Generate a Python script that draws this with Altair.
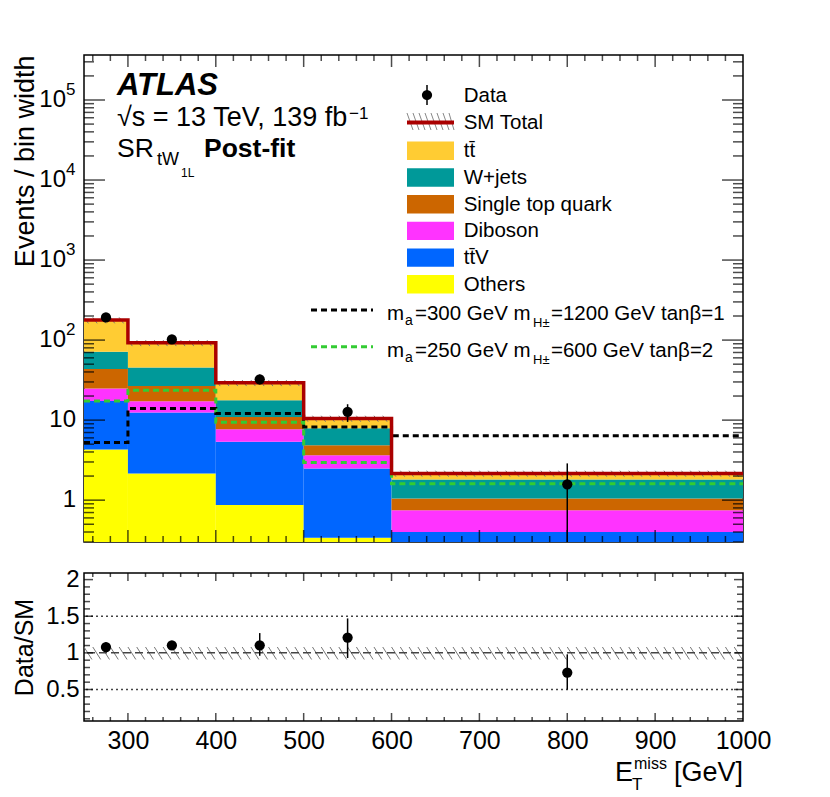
import altair as alt
import pandas as pd

FONT = "Liberation Sans"

# ---------------- data ----------------
bin_lo = [250, 300, 400, 500, 600]
bin_hi = [300, 400, 500, 600, 1000]
bin_mid = [275, 350, 450, 550, 800]

# stacked backgrounds (events / bin width), bottom -> top
others = [4.3, 2.16, 0.87, 0.34, 0.2]
ttv = [13.0, 10.3, 4.5, 2.15, 0.2]
diboson = [7.6, 4.8, 2.3, 1.16, 0.35]
single_top = [18.5, 9.5, 3.3, 1.22, 0.30]
wjets = [28.0, 18.8, 6.8, 3.03, 0.76]
ttbar = [106.6, 46.9, 11.5, 2.6, 0.35]

data_val = [192, 102, 32.3, 12.7, 1.58]
data_lo = [179, 93, 28, 9.5, 0.05]
data_hi = [206, 112, 37, 15.8, 2.88]

sig1 = [5.26, 14.0, 12.1, 8.2, 6.4]    # m_a=300, m_H+=1200, tanb=1
sig2 = [17.3, 23.7, 9.4, 2.96, 1.6]    # m_a=250, m_H+=600, tanb=2

# SM total relative uncertainty band
band_lo = [0.91, 0.91, 0.91, 0.91, 0.91]
band_hi = [1.08, 1.08, 1.08, 1.08, 1.08]

# ratio error bars
ratio_lo = [1.02, 1.05, 0.96, 0.93, 0.50]
ratio_hi = [1.14, 1.16, 1.27, 1.47, 0.98]

proc_names = ["Others", "ttV", "Diboson", "Single top quark", "W+jets", "ttbar"]
proc_vals = [others, ttv, diboson, single_top, wjets, ttbar]
proc_cols = ["#ffff00", "#0066ff", "#ff33ff", "#cc6600", "#009999", "#ffcc33"]

x_major = [300, 400, 500, 600, 700, 800, 900]
ratio_labels = [300, 400, 500, 600, 700, 800, 900, 1000]
y_decades = [1, 10, 100, 1000, 10000, 100000]
y_base = ["1", "10", "10", "10", "10", "10"]
y_exp = ["", "", "2", "3", "4", "5"]

# ---------------- build tables ----------------
rows = []
cum = [0.0] * 5
for name, vals in zip(proc_names, proc_vals):
    for i in range(5):
        b = cum[i]
        t = b + vals[i]
        rows.append(dict(proc=name, x=bin_lo[i], x2=bin_hi[i], y=max(b, 0.01), y2=t))
        cum[i] = t
total = cum
stack_df = pd.DataFrame(rows)

W, H = 659, 487
WR, HR = 659, 148

xsc = alt.Scale(domain=[250, 1000], nice=False, zero=False)
ysc = alt.Scale(type="log", domain=[0.3, 3.65e5], nice=False)
ysc_r = alt.Scale(domain=[0.07, 2.09], nice=False, zero=False)

dummy = pd.DataFrame({"d": [0]})


def txt(s, x, y, size=20.5, weight="normal", style="normal", align="left"):
    return alt.Chart(dummy).mark_text(
        text=s, align=align, baseline="alphabetic", fontSize=size, font=FONT,
        fontWeight=weight, fontStyle=style, color="black"
    ).encode(x=alt.value(x), y=alt.value(y))


def box(x1, x2, y1, y2, color):
    return alt.Chart(dummy).mark_rect(color=color).encode(
        x=alt.value(x1), x2=alt.value(x2), y=alt.value(y1), y2=alt.value(y2))


def seg(x1, y1, x2, y2, color, width, dash=None):
    kw = dict(color=color, strokeWidth=width)
    if dash:
        kw["strokeDash"] = dash
    return alt.Chart(dummy).mark_rule(**kw).encode(
        x=alt.value(x1), x2=alt.value(x2), y=alt.value(y1), y2=alt.value(y2))


def ticks(vals, axis, length, width, height):
    df = pd.DataFrame({"v": vals})
    out = []
    if axis == "x":
        for ypos in (height - length / 2, length / 2):
            out.append(alt.Chart(df).mark_tick(orient="vertical", size=length, thickness=1.5,
                                               color="black", clip=True)
                       .encode(x=alt.X("v:Q"), y=alt.value(ypos)))
    else:
        for xpos in (length / 2, width - length / 2):
            out.append(alt.Chart(df).mark_tick(orient="horizontal", size=length, thickness=1.5,
                                               color="black", clip=True)
                       .encode(y=alt.Y("v:Q"), x=alt.value(xpos)))
    return out


# ---------------- main panel ----------------
stack = alt.Chart(stack_df).mark_rect(clip=True).encode(
    x=alt.X("x:Q", scale=xsc, axis=alt.Axis(labels=False, ticks=False, domain=False, grid=False, title=None)),
    x2="x2:Q",
    y=alt.Y("y:Q", scale=ysc, axis=alt.Axis(labels=False, ticks=False, domain=False, grid=False,
                                            title="Events / bin width", titleAnchor="end",
                                            titleFontSize=27, titlePadding=45)),
    y2="y2:Q",
    color=alt.Color("proc:N", scale=alt.Scale(domain=proc_names, range=proc_cols), legend=None),
)

# hatch of SM uncertainty along total
hrows = []
for i in range(5):
    x = bin_lo[i]
    while x < bin_hi[i]:
        hrows.append(dict(x=x, x2=min(x + 5, bin_hi[i]), y=total[i] * band_hi[i], y2=total[i] * band_lo[i]))
        x += 10
hatch_main = alt.Chart(pd.DataFrame(hrows)).mark_rule(color="#777777", strokeWidth=1, clip=True).encode(
    x="x:Q", x2="x2:Q", y="y:Q", y2="y2:Q")

edges = bin_lo + [bin_hi[-1]]
tot_line = alt.Chart(pd.DataFrame({"x": edges, "y": total + [total[-1]]})).mark_line(
    interpolate="step-after", color="#aa0000", strokeWidth=3.5, clip=True).encode(x="x:Q", y="y:Q")
sig1_line = alt.Chart(pd.DataFrame({"x": edges, "y": sig1 + [sig1[-1]]})).mark_line(
    interpolate="step-after", color="black", strokeWidth=3, strokeDash=[6, 4], clip=True).encode(x="x:Q", y="y:Q")
sig2_line = alt.Chart(pd.DataFrame({"x": edges, "y": sig2 + [sig2[-1]]})).mark_line(
    interpolate="step-after", color="#33cc33", strokeWidth=3, strokeDash=[6, 4], clip=True).encode(x="x:Q", y="y:Q")

ddf = pd.DataFrame({"x": bin_mid, "v": data_val, "lo": data_lo, "hi": data_hi})
data_err = alt.Chart(ddf).mark_rule(color="black", strokeWidth=1.5, clip=True).encode(x="x:Q", y="lo:Q", y2="hi:Q")
data_pts = alt.Chart(ddf).mark_circle(color="black", size=105, opacity=1, clip=True).encode(x="x:Q", y="v:Q")

ylab = pd.DataFrame({"v": y_decades, "base": y_base, "exp": y_exp})
ylab_plain = alt.Chart(ylab[ylab["exp"] == ""]).mark_text(
    align="right", baseline="middle", fontSize=24, font=FONT, color="black").encode(
    y="v:Q", x=alt.value(-8), text="base:N")
ylab_base = alt.Chart(ylab[ylab["exp"] != ""]).mark_text(
    align="right", baseline="middle", fontSize=24, font=FONT, color="black").encode(
    y="v:Q", x=alt.value(-18), text="base:N")
ylab_exp = alt.Chart(ylab[ylab["exp"] != ""]).mark_text(
    align="left", baseline="middle", fontSize=17, font=FONT, color="black", dy=-10).encode(
    y="v:Q", x=alt.value(-18), text="exp:N")

x_minor = [v for v in range(260, 1000, 20) if v % 100 != 0]
y_minor = [m * 10.0 ** e for e in range(-1, 6) for m in range(2, 10) if 0.3 <= m * 10.0 ** e <= 3.65e5]

main_ticks = (ticks(x_major, "x", 12, W, H) + ticks(x_minor, "x", 6, W, H)
              + ticks(y_decades, "y", 21, W, H) + ticks(y_minor, "y", 10, W, H))

# annotation text
ann = [
    txt("ATLAS", 33, 40, size=31, weight="bold", style="italic"),
    txt("\u221as = 13 TeV, 139 fb", 33, 71, size=27),
    txt("\u22121", 265, 63.5, size=17),
    txt("SR", 33, 102, size=26.5),
    txt("tW", 73, 110, size=18),
    txt("1L", 97, 122, size=12),
    txt("Post-fit", 120, 102, size=26.5, weight="bold"),
]

# legend
LX1, LX2, TX = 323, 370, 379.7
leg = []
leg.append(seg(343, 30, 343, 50, "black", 1.5))
leg.append(alt.Chart(dummy).mark_circle(color="black", size=105, opacity=1).encode(x=alt.value(343), y=alt.value(40)))
leg.append(txt("Data", TX, 46.5))
for k in range(8):
    hx = LX1 + k * 6
    leg.append(seg(hx, 58, min(hx + 6, LX2), 75, "#888888", 1))
leg.append(seg(LX1, 67.5, LX2, 67.5, "#aa0000", 4))
leg.append(txt("SM Total", TX, 73.5))
leg_rows = [("tt\u0304", "#ffcc33"), ("W+jets", "#009999"), ("Single top quark", "#cc6600"),
            ("Diboson", "#ff33ff"), ("tt\u0304V", "#0066ff"), ("Others", "#ffff00")]
centers = [95.8, 122.5, 149.2, 175.9, 202.6, 229.3]
for (lab, col), c in zip(leg_rows, centers):
    leg.append(box(LX1, LX2, c - 9.2, c + 9.2, col))
    leg.append(txt(lab, TX, c + 6.5))
for yc, col, mid, tail in [(255, "black", "=300 GeV m", "=1200 GeV tan\u03b2=1"),
                           (291.7, "#33cc33", "=250 GeV m", "=600 GeV tan\u03b2=2")]:
    leg.append(seg(227, yc, 289, yc, col, 3, dash=[6, 4]))
    bl = yc + 10
    leg.append(txt("m", 303, bl))
    leg.append(txt("a", 321, bl + 5, size=14))
    leg.append(txt(mid, 331, bl))
    leg.append(txt("H\u00b1", 449, bl + 7, size=13))
    leg.append(txt(tail, 467, bl))

main = alt.layer(stack, hatch_main, sig2_line, sig1_line, tot_line, data_err, data_pts,
                 ylab_plain, ylab_base, ylab_exp, *main_ticks, *ann, *leg).properties(width=W, height=H)

# ---------------- ratio panel ----------------
ratio_val = [d / t for d, t in zip(data_val, total)]
rdf = pd.DataFrame({"x": bin_mid, "v": ratio_val, "lo": ratio_lo, "hi": ratio_hi})

rh = []
for i in range(5):
    x = bin_lo[i]
    while x < bin_hi[i]:
        rh.append(dict(x=x, x2=min(x + 9, 1000), y=band_hi[i], y2=band_lo[i]))
        x += 10
r_hatch = alt.Chart(pd.DataFrame(rh)).mark_rule(color="#777777", strokeWidth=1, clip=True).encode(
    x=alt.X("x:Q", scale=xsc, axis=alt.Axis(values=ratio_labels, format="d", labelFontSize=25, labelPadding=7,
                                            labelFlush=False, ticks=False, domain=False, grid=False, title=None)),
    x2="x2:Q",
    y=alt.Y("y:Q", scale=ysc_r, axis=alt.Axis(values=[0.5, 1, 1.5, 2], format="~g", labelFontSize=24,
                                              labelPadding=5, labelFlush=False, ticks=False, domain=False,
                                              grid=False, title="Data/SM", titleFontSize=25, titlePadding=8)),
    y2="y2:Q")

r_dot = alt.Chart(pd.DataFrame({"v": [0.5, 1.5]})).mark_rule(color="#444444", strokeWidth=1.5,
                                                              strokeDash=[2, 3]).encode(y="v:Q")
r_one = alt.Chart(pd.DataFrame({"v": [1.0]})).mark_rule(color="#444444", strokeWidth=1.5,
                                                         strokeDash=[8, 4]).encode(y="v:Q")
r_err = alt.Chart(rdf).mark_rule(color="black", strokeWidth=1.5, clip=True).encode(x="x:Q", y="lo:Q", y2="hi:Q")
r_pts = alt.Chart(rdf).mark_circle(color="black", size=105, opacity=1, clip=True).encode(x="x:Q", y="v:Q")

r_minor_y = [v / 10 for v in range(1, 21) if v % 5 != 0]
ratio_ticks = (ticks(x_major, "x", 8, WR, HR) + ticks(x_minor, "x", 4, WR, HR)
               + ticks([0.5, 1, 1.5, 2], "y", 9, WR, HR) + ticks(r_minor_y, "y", 6, WR, HR))

xtitle = [
    txt("E", 531, 208, size=27),
    txt("miss", 550, 196, size=16),
    txt("T", 548, 217, size=17),
    txt("[GeV]", 659, 208, size=27, align="right"),
]

ratio = alt.layer(r_hatch, r_dot, r_one, r_err, r_pts, *ratio_ticks, *xtitle).properties(width=WR, height=HR)

chart = alt.vconcat(main, ratio, spacing=31, bounds="flush").properties(
    padding={"left": 2, "top": 46, "right": 5, "bottom": 5}
).configure_view(stroke="black", strokeWidth=1.5).configure_axis(
    labelFont=FONT, titleFont=FONT, labelColor="black", titleColor="black", titleFontWeight="normal"
)

chart.save("out.html", embed_options={"renderer": "svg", "actions": False})
